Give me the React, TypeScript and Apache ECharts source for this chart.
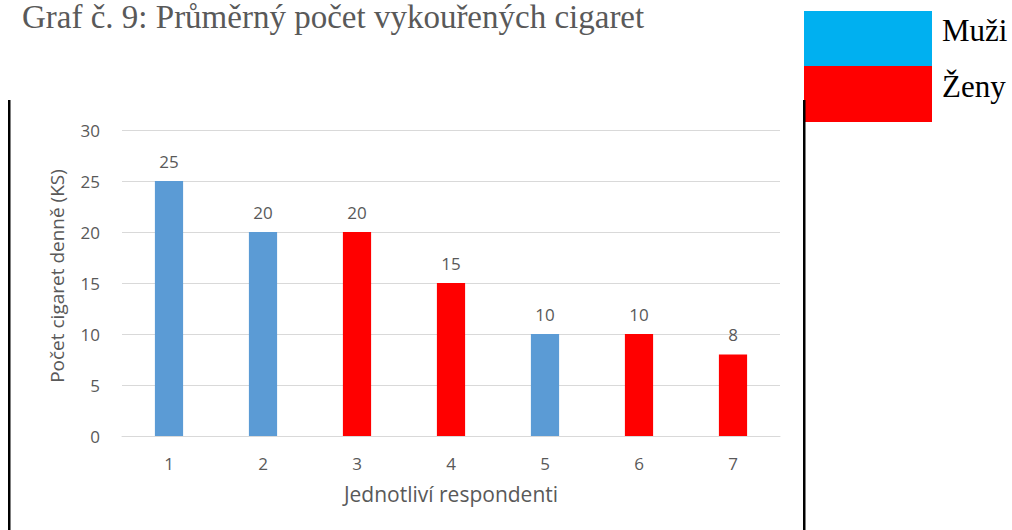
import React, { useEffect, useRef } from "react";
import * as echarts from "echarts";

const categories = ["1", "2", "3", "4", "5", "6", "7"];
const values = [25, 20, 20, 15, 10, 10, 8];
const genders = ["M", "M", "Z", "Z", "M", "Z", "Z"];
const legendLabels = ["Muži", "Ženy"];
const titleText = "Graf č. 9: Průměrný počet vykouřených cigaret";
const xAxisName = "Jednotliví respondenti";
const yAxisName = "Počet cigaret denně (KS)";

const BAR_BLUE = "#5B9BD5";
const BAR_RED = "#FF0000";
const LEG_BLUE = "#00B0F0";
const LEG_RED = "#FF0000";
const GRAY = "#595959";
const SANS = "'Open Sans', sans-serif";
const SERIF = "'Liberation Serif', 'Times New Roman', serif";

export default function App() {
  const ref = useRef<HTMLDivElement>(null);
  useEffect(() => {
    if (!ref.current) return;
    const chart = echarts.init(ref.current, undefined, { renderer: "svg" });
    chart.setOption({
      animation: false,
      backgroundColor: "#ffffff",
      grid: { left: 122, right: 232, top: 130, bottom: 94 },
      xAxis: {
        type: "category",
        data: categories,
        name: xAxisName,
        nameLocation: "middle",
        nameGap: 47,
        nameTextStyle: { color: GRAY, fontSize: 21, fontFamily: SANS },
        axisLine: { show: true, lineStyle: { color: "#d9d9d9" } },
        axisTick: { show: false },
        axisLabel: { color: GRAY, fontSize: 17, fontFamily: SANS, margin: 19 },
      },
      yAxis: {
        type: "value",
        min: 0,
        max: 30,
        interval: 5,
        name: yAxisName,
        nameLocation: "middle",
        nameRotate: 90,
        nameGap: 56,
        nameTextStyle: { color: GRAY, fontSize: 19, fontFamily: SANS, padding: [0, 0, 0, 14] },
        axisLine: { show: false },
        axisTick: { show: false },
        splitLine: { lineStyle: { color: "#d9d9d9" } },
        axisLabel: { color: GRAY, fontSize: 17, fontFamily: SANS, margin: 22 },
      },
      series: [
        {
          type: "bar",
          barWidth: "30%",
          data: values.map((v, i) => ({
            value: v,
            itemStyle: { color: genders[i] === "M" ? BAR_BLUE : BAR_RED },
          })),
          label: {
            show: true,
            position: "top",
            distance: 11,
            color: GRAY,
            fontSize: 17,
            fontFamily: SANS,
          },
        },
      ],
      graphic: [
        {
          type: "text",
          x: 22,
          y: 17,
          style: { text: titleText, fill: "#595959", font: `33px ${SERIF}`, verticalAlign: "middle" },
        },
        { type: "rect", shape: { x: 804, y: 11, width: 128, height: 55 }, style: { fill: LEG_BLUE } },
        { type: "rect", shape: { x: 804, y: 66, width: 128, height: 56 }, style: { fill: LEG_RED } },
        {
          type: "text",
          x: 942,
          y: 30,
          style: { text: legendLabels[0], fill: "#000", font: `31px ${SERIF}`, verticalAlign: "middle" },
        },
        {
          type: "text",
          x: 942,
          y: 86,
          style: { text: legendLabels[1], fill: "#000", font: `31px ${SERIF}`, verticalAlign: "middle" },
        },
        { type: "rect", shape: { x: 8, y: 100, width: 2.5, height: 430 }, style: { fill: "#000" } },
        { type: "rect", shape: { x: 803, y: 100, width: 2.5, height: 430 }, style: { fill: "#000" } },
      ],
    });
    return () => chart.dispose();
  }, []);
  return (
    <div
      ref={ref}
      style={{ position: "fixed", left: 0, top: 0, width: 1012, height: 530 }}
    />
  );
}
